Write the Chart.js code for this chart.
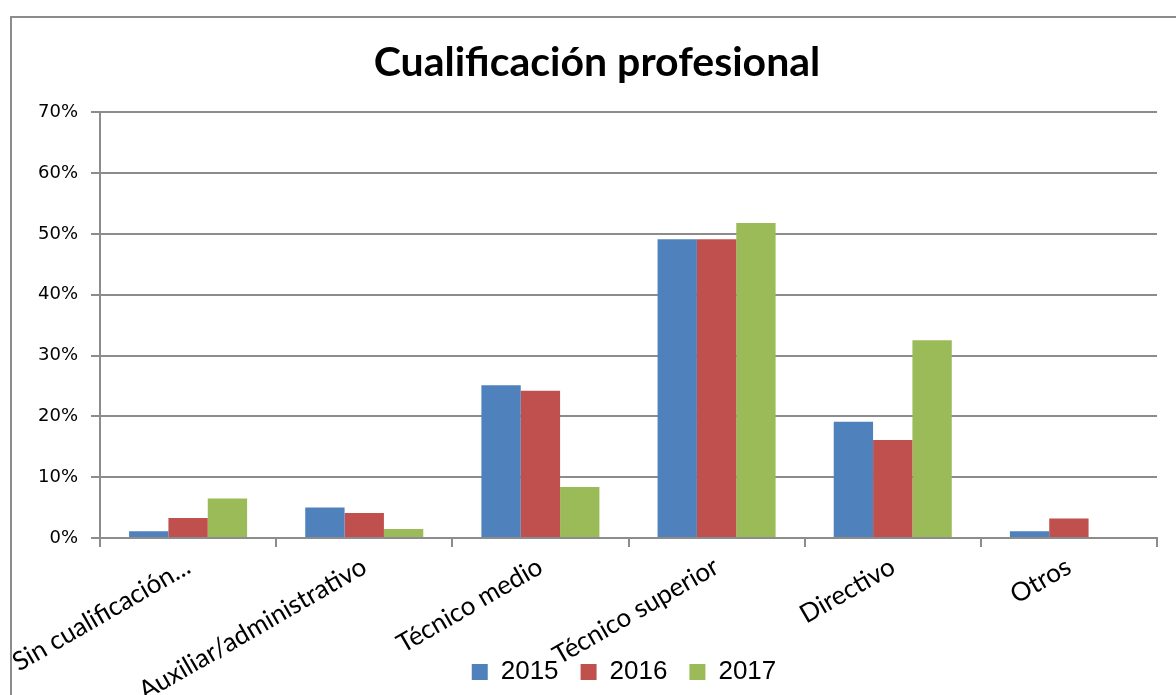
<!DOCTYPE html>
<html>
<head>
<meta charset="utf-8">
<script src="https://cdn.jsdelivr.net/npm/chart.js@4.4.1/dist/chart.umd.min.js"></script>
<style>
  html, body { margin: 0; padding: 0; background: #fff; }
  #frame { position: absolute; left: 10px; top: 16px; width: 1200px; height: 720px; border: 2px solid #8c8c8c; box-sizing: border-box; }
  #wrap { position: absolute; left: 0; top: 0; width: 1176px; height: 695px; }
</style>
</head>
<body>
<div id="frame"></div>
<div id="wrap"><canvas id="chart" width="1176" height="695"></canvas></div>
<script>
// categories and values (percent)
const categories = ['Sin cualificación...', 'Auxiliar/administrativo', 'Técnico medio', 'Técnico superior', 'Directivo', 'Otros'];
const values2015 = [1.1, 5.0, 25.1, 49.1, 19.1, 1.1];
const values2016 = [3.3, 4.1, 24.2, 49.1, 16.1, 3.2];
const values2017 = [6.5, 1.5, 8.4, 51.8, 32.5, 0];
const yTicks = [0, 10, 20, 30, 40, 50, 60, 70];

const gridColor = '#8c8c8c';

// let the rotated x labels run down over the legend area like in the original,
// and nudge the legend a bit to the right
const tweakLayout = {
    id: 'tweakLayout',
    afterLayout(chart) {
        const x = chart.scales.x;
        x.bottom = chart.height;
        x.height = x.bottom - x.top;
        const lg = chart.legend;
        if (lg) {
            lg.left += 27;
            lg.right += 27;
        }
    }
};

const ctx = document.getElementById('chart').getContext('2d');
new Chart(ctx, {
    type: 'bar',
    data: {
        labels: categories,
        datasets: [
            { label: '2015', data: values2015, backgroundColor: '#4f81bd' },
            { label: '2016', data: values2016, backgroundColor: '#c0504d' },
            { label: '2017', data: values2017, backgroundColor: '#9bbb59' }
        ]
    },
    plugins: [tweakLayout],
    options: {
        responsive: false,
        animation: false,
        devicePixelRatio: 1,
        layout: { padding: { left: 18, right: 0, top: 0, bottom: 0 } },
        datasets: { bar: { categoryPercentage: 0.67, barPercentage: 1.0 } },
        plugins: {
            title: {
                display: true,
                text: 'Cualificación profesional',
                color: '#000',
                font: { family: 'Lato', size: 41, weight: 'bold', lineHeight: 1.2 },
                padding: { top: 38, bottom: 25 }
            },
            legend: {
                position: 'bottom',
                labels: {
                    color: '#000',
                    font: { family: 'Liberation Sans', size: 26 },
                    boxWidth: 16,
                    boxHeight: 16,
                    padding: 22
                }
            },
            tooltip: { enabled: false }
        },
        scales: {
            x: {
                grid: { drawOnChartArea: false, drawTicks: true, tickLength: 9, color: gridColor, lineWidth: 2 },
                border: { display: true, color: gridColor, width: 2 },
                ticks: {
                    color: '#000',
                    font: { family: 'Lato', size: 26 },
                    minRotation: 30,
                    maxRotation: 30,
                    padding: 4,
                    autoSkip: false
                },
                afterFit: (scale) => {
                    const lg = scale.chart.legend;
                    const lh = lg && lg.height ? lg.height : 50;
                    scale.height = 695 - 538 - lh;
                }
            },
            y: {
                min: yTicks[0],
                max: yTicks[yTicks.length - 1],
                afterBuildTicks: (scale) => { scale.ticks = yTicks.map(v => ({ value: v })); },
                grid: { color: gridColor, lineWidth: 2, tickLength: 9 },
                border: { display: true, color: gridColor, width: 2 },
                ticks: {
                    color: '#000',
                    font: { family: 'DejaVu Sans', size: 18 },
                    padding: 13,
                    callback: (v) => v + '%'
                },
                afterFit: (scale) => { scale.width = 82; }
            },
            // empty axis that only keeps the right margin
            yRight: {
                position: 'right',
                display: true,
                grid: { display: false },
                border: { display: false },
                ticks: { display: false },
                afterFit: (scale) => { scale.width = 19; }
            }
        }
    }
});
</script>
</body>
</html>
